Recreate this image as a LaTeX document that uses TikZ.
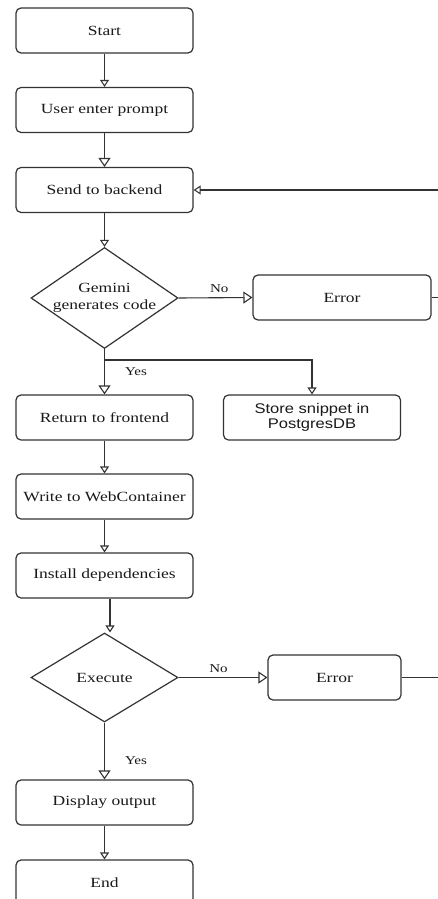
\documentclass[tikz,border=0pt]{standalone}
\usepackage{fontspec}
\setmainfont{Liberation Serif}
\newfontfamily\arialf{Liberation Sans}
\usetikzlibrary{shapes.geometric,arrows.meta}
\newcommand{\sx}[1]{\scalebox{1.25}[1]{#1}}
\newcommand{\sxa}[1]{\scalebox{1.18}[1]{#1}}
\definecolor{ln}{HTML}{333333}
\definecolor{tx}{HTML}{1A1A1A}
\begin{document}
\begin{tikzpicture}[x=1pt,y=-1pt,
  box/.style={draw=ln, line width=1.2pt, rounded corners=5pt, minimum width=177pt, minimum height=45pt, inner sep=0pt, text=tx, font=\fontsize{14}{16}\selectfont},
  dia/.style={draw=ln, line width=1.2pt, diamond, minimum width=147pt, inner sep=0pt},
  dtext/.style={text=tx, font=\fontsize{14}{16.5}\selectfont, align=center},
  lab/.style={text=tx, font=\fontsize{12}{14}\selectfont},
  big/.style={draw=ln, line width=1.1pt, -{Triangle[open,length=9pt,width=12pt,line width=1.1pt]}},
  sml/.style={draw=ln, line width=1.1pt, -{Triangle[open,length=7pt,width=9pt,line width=1.1pt]}},
  con/.style={draw=ln, line width=1.1pt}
]
\useasboundingbox (0,0) rectangle (438,899);
\clip (0,0) rectangle (438,899);
\fill[white] (0,0) rectangle (438,899);

\node[box] (start) at (104.5,30.5) {\sx{Start}};
\node[box] (user) at (104.5,110) {\sx{User enter prompt}};
\node[box] (send) at (104.5,190) {\sx{Send to backend}};
\node[dia, minimum height=101pt] (gem) at (104.5,298) {};
\node[dtext] (gemt) at (104.5,298) {\sx{Gemini}\\\sx{generates code}};
\node[box, minimum width=178pt] (err1) at (342,297.5) {\sx{Error}};
\node[box] (ret) at (104.5,417.5) {\sx{Return to frontend}};
\node[box, font=\arialf\fontsize{14}{15.5}\selectfont, align=center] (store) at (312,417.5) {\sxa{Store snippet in}\\\sxa{PostgresDB}};
\node[box] (write) at (104.5,496.5) {\sx{Write to WebContainer}};
\node[box] (inst) at (104.5,575.5) {\sx{Install dependencies}};
\node[dia, minimum height=89pt] (exe) at (104.5,677.5) {};
\node[dtext] (exet) at (104.5,677.5) {\sx{Execute}};
\node[box, minimum width=133pt] (err2) at (334.5,677.5) {\sx{Error}};
\node[box] (disp) at (104.5,802.5) {\sx{Display output}};
\node[box] (end) at (104.5,882.5) {\sx{End}};

\coordinate (loopa) at (460,297.5);
\coordinate (loopb) at (460,190);
\coordinate (loopc) at (460,677.5);
\coordinate (split) at (104.5,360);

\draw[sml] (start) -- (user);
\draw[big] (user) -- (send);
\draw[sml] (send) -- (gem);
\draw[big] (gem.east) -- node[lab, above, pos=0.55, yshift=1pt] (no1) {\sx{No}} (err1.west);
\draw[sml] (err1.east) -- (loopa) -- (loopb) -- (send.east);
\draw[big] (gem.south) -- (ret.north);
\node[lab] (yes1) at (136,372) {\sx{Yes}};
\draw[sml] (split) -| (store.north);
\draw[sml] (ret) -- (write);
\draw[sml] (write) -- (inst);
\draw[sml] ([xshift=5.5pt]inst.south) -- ([xshift=5.5pt]exe.north);
\draw[big] (exe.east) -- node[lab, above, pos=0.45, yshift=1pt] (no2) {\sx{No}} (err2.west);
\draw[con] (err2.east) -- (loopc);
\draw[big] (exe.south) -- (disp.north);
\node[lab] (yes2) at (136,761) {\sx{Yes}};
\draw[sml] (disp) -- (end);
\end{tikzpicture}
\end{document}
